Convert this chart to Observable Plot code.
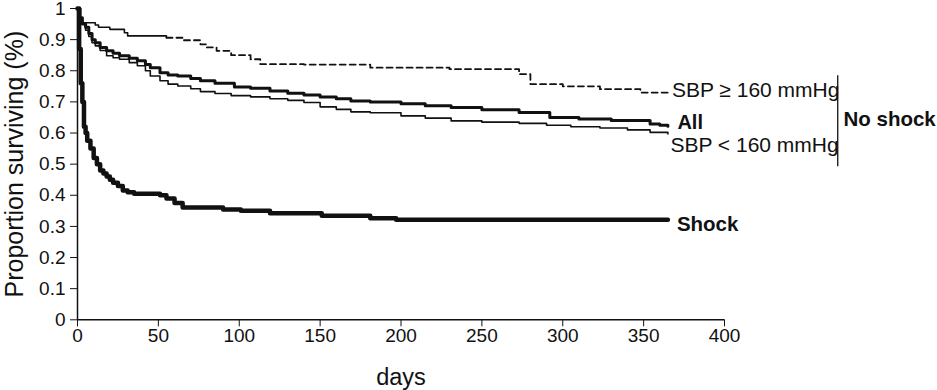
<!DOCTYPE html>
<html><head><meta charset="utf-8">
<script src="https://cdn.jsdelivr.net/npm/d3@7"></script>
<script src="https://cdn.jsdelivr.net/npm/@observablehq/plot@0.6"></script>
<style>
html,body{margin:0;padding:0;background:#fff}
</style>
</head><body><div id="chart"></div>
<script>
// Kaplan-Meier style survival curves
const shockDays = [0,1,2,3,4,5,6,8,10,12,14,16,18,20,22,25,28,31,35,51,55,60,65,90,101,119,151,181,197,365];
const shockSurv = [1,0.87,0.76,0.70,0.62,0.60,0.575,0.55,0.52,0.50,0.48,0.47,0.46,0.45,0.44,0.43,0.415,0.41,0.405,0.40,0.39,0.375,0.361,0.354,0.35,0.342,0.334,0.326,0.321,0.321];

const allDays = [0,1,3,5,7,9,11,14,18,22,26,32,37,42,45,51,56,62,70,76,85,97,107,119,130,140,150,160,169,181,200,215,231,250,273,292,310,330,354,360,365];
const allSurv = [1,0.97,0.95,0.94,0.92,0.90,0.89,0.875,0.864,0.856,0.848,0.84,0.832,0.82,0.81,0.794,0.786,0.783,0.775,0.768,0.76,0.748,0.744,0.735,0.728,0.722,0.716,0.71,0.703,0.70,0.694,0.688,0.682,0.675,0.666,0.65,0.645,0.64,0.629,0.625,0.622];

const lowDays = [0,1,3,5,7,9,11,14,18,22,26,32,37,42,45,51,56,62,70,76,85,95,107,119,130,140,150,160,169,181,200,215,231,250,273,290,305,323,340,354,365];
const lowSurv = [1,0.97,0.95,0.93,0.91,0.89,0.88,0.865,0.848,0.842,0.837,0.826,0.816,0.80,0.783,0.768,0.757,0.751,0.742,0.733,0.727,0.72,0.716,0.71,0.705,0.698,0.684,0.676,0.668,0.665,0.655,0.648,0.639,0.635,0.631,0.625,0.62,0.616,0.61,0.602,0.597];

const highDays = [0,2,3,11,13,20,29,31,55,65,76,80,86,95,107,113,140,181,230,273,280,300,323,348,365];
const highSurv = [1,0.97,0.954,0.947,0.94,0.933,0.922,0.912,0.906,0.898,0.885,0.875,0.864,0.85,0.837,0.821,0.82,0.81,0.805,0.789,0.757,0.75,0.741,0.73,0.726];

const seriesLabels = ["SBP \u2265 160 mmHg", "All", "SBP < 160 mmHg", "Shock"];
const groupLabel = "No shock";
const xTicks = [0,50,100,150,200,250,300,350,400];
const xTickLabels = ["0","50","100","150","200","250","300","350","400"];
const yTicks = [0,0.1,0.2,0.3,0.4,0.5,0.6,0.7,0.8,0.9,1];
const yTickLabels = ["0","0.1","0.2","0.3","0.4","0.5","0.6","0.7","0.8","0.9","1"];
const xTitle = "days";
const yTitle = "Proportion surviving (%)";

const toRows = (days, surv) => days.map((d, i) => ({day: d, s: surv[i]}));
const shock = toRows(shockDays, shockSurv);
const all = toRows(allDays, allSurv);
const low = toRows(lowDays, lowSurv);
const high = toRows(highDays, highSurv);
const highEarly = high.filter(d => d.day <= 55);
const highLate = high.filter(d => d.day >= 55);
const last = a => [a[a.length - 1]];
const bracket = [{x: 470, y1: 0.784, y2: 0.492}];

const ink = "#111";
const font = "'Liberation Sans', Arial, Helvetica, sans-serif";

const chart = Plot.plot({
  width: 937,
  height: 390,
  marginLeft: 77,
  marginRight: 213,
  marginTop: 8,
  marginBottom: 70.7,
  style: {fontFamily: font, fontSize: "19px", color: ink, background: "#fff", overflow: "visible"},
  x: {domain: [0, 400], ticks: xTicks, tickFormat: (d, i) => xTickLabels[i], tickSize: 7, tickPadding: 2, label: null},
  y: {domain: [0, 1], ticks: yTicks, tickFormat: (d, i) => yTickLabels[i], tickSize: 7, tickPadding: 5, label: null},
  marks: [
    Plot.ruleX([0], {stroke: ink, strokeWidth: 1.5}),
    Plot.ruleY([0], {stroke: ink, strokeWidth: 1.5}),
    Plot.line(low, {x: "day", y: "s", curve: "step-after", stroke: ink, strokeWidth: 1.6}),
    Plot.line(highEarly, {x: "day", y: "s", curve: "step-after", stroke: ink, strokeWidth: 1.6}),
    Plot.line(highLate, {x: "day", y: "s", curve: "step-after", stroke: ink, strokeWidth: 1.8, strokeDasharray: "6,4"}),
    Plot.line(all, {x: "day", y: "s", curve: "step-after", stroke: ink, strokeWidth: 3}),
    Plot.line(shock, {x: "day", y: "s", curve: "step-after", stroke: ink, strokeWidth: 4.5}),
    Plot.text(last(high), {x: "day", y: "s", text: () => seriesLabels[0], textAnchor: "start", lineAnchor: "bottom", dx: 4, dy: 3, fontSize: 21, fill: ink}),
    Plot.text(last(all), {x: "day", y: "s", text: () => seriesLabels[1], textAnchor: "start", lineAnchor: "bottom", dx: 9.5, dy: 3, fontSize: 20, fontWeight: "bold", fill: ink}),
    Plot.text(last(low), {x: "day", y: "s", text: () => seriesLabels[2], textAnchor: "start", lineAnchor: "bottom", dx: 2.5, dy: 18.5, fontSize: 21, fill: ink}),
    Plot.text(last(shock), {x: "day", y: "s", text: () => seriesLabels[3], textAnchor: "start", lineAnchor: "bottom", dx: 9, dy: 11.5, fontSize: 20.5, fontWeight: "bold", fill: ink}),
    Plot.ruleX(bracket, {x: "x", y1: "y1", y2: "y2", stroke: ink, strokeWidth: 1.3}),
    Plot.text([groupLabel], {frameAnchor: "right", text: d => d, textAnchor: "start", lineAnchor: "bottom", dx: 119, dy: -37.7, fontSize: 20.5, fontWeight: "bold", fill: ink}),
    Plot.text([xTitle], {frameAnchor: "bottom", text: d => d, textAnchor: "middle", lineAnchor: "bottom", dy: 65, fontSize: 23.5, fill: ink}),
    Plot.text([yTitle], {frameAnchor: "left", text: d => d, rotate: -90, textAnchor: "middle", lineAnchor: "bottom", dx: -55, fontSize: 25, fill: ink})
  ]
});
document.getElementById("chart").appendChild(chart);
</script></body></html>
